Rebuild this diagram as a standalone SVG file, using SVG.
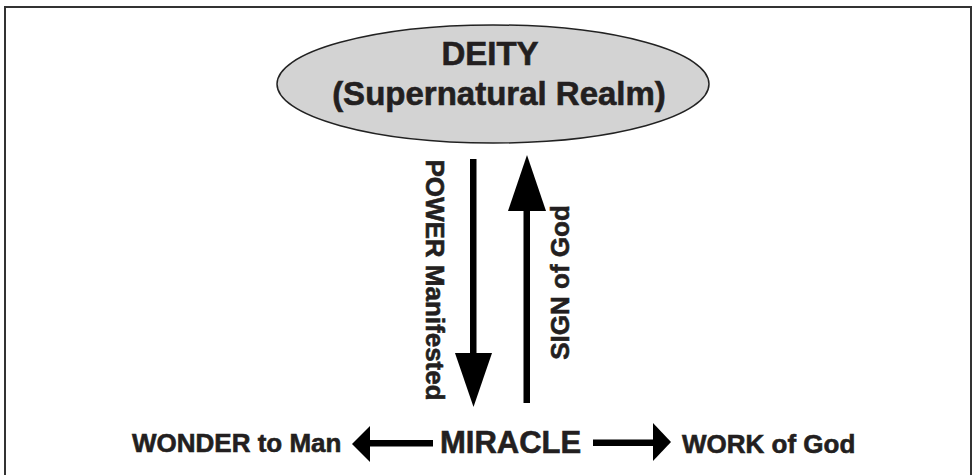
<svg xmlns="http://www.w3.org/2000/svg" width="976" height="475" viewBox="0 0 976 475">
<style>
  .t { font-family: "Liberation Sans", Arial, sans-serif; font-weight: bold; fill: #231f20; stroke: #231f20; stroke-width: 0.6px; }
  .big { font-size: 33px; }
  .mid { font-size: 26px; }
  .arr { fill: #000; stroke: none; }
</style>
<rect x="0" y="0" width="976" height="475" fill="#fff"/>
<rect x="5" y="7" width="966" height="490" fill="none" stroke="#333" stroke-width="2"/>
<g id="deity">
  <ellipse cx="493" cy="84" rx="216" ry="59" fill="#d3d3d3" stroke="#222" stroke-width="1.5"/>
  <text class="t big" x="490" y="65" text-anchor="middle">DEITY</text>
  <text class="t big" x="499" y="105" text-anchor="middle">(Supernatural Realm)</text>
</g>
<g id="miracle">
  <text class="t" x="440" y="453" font-size="31">MIRACLE</text>
</g>
<g id="wonder">
  <text class="t mid" x="132" y="452">WONDER to Man</text>
</g>
<g id="work">
  <text class="t mid" x="682" y="453">WORK of God</text>
</g>
<g id="connectors">
  <g id="power">
    <rect class="arr" x="470" y="159" width="6.5" height="196"/>
    <polygon class="arr" points="455,353 492,353 473.5,407"/>
    <text class="t mid" transform="translate(426,280) rotate(90)" text-anchor="middle">POWER Manifested</text>
  </g>
  <g id="sign">
    <rect class="arr" x="523.5" y="209" width="6.5" height="194"/>
    <polygon class="arr" points="508,211 546,211 527,155"/>
    <text class="t mid" transform="translate(569,282.5) rotate(-90)" text-anchor="middle">SIGN of God</text>
  </g>
  <g id="to-wonder">
    <rect class="arr" x="368" y="440" width="65" height="6.5"/>
    <polygon class="arr" points="370,426 370,462 352,444"/>
  </g>
  <g id="to-work">
    <rect class="arr" x="593" y="439.5" width="62" height="6.5"/>
    <polygon class="arr" points="653,423 653,461 671,442"/>
  </g>
</g>
</svg>
